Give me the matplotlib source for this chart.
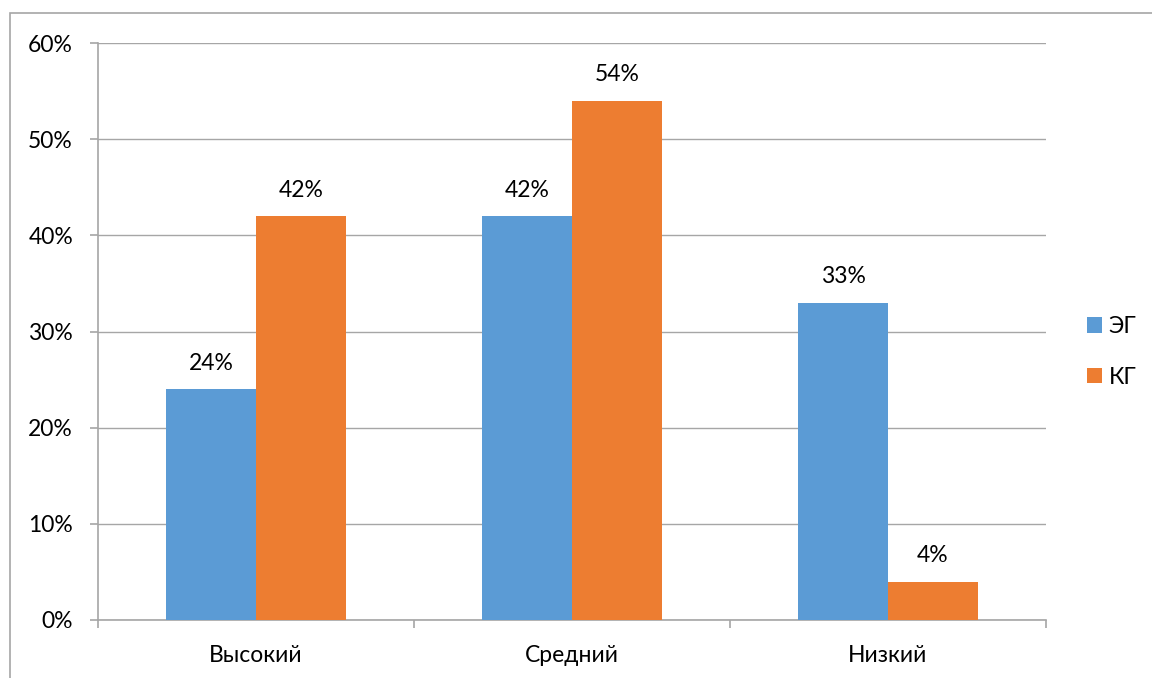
import matplotlib.pyplot as plt
import numpy as np
from matplotlib.patches import Rectangle

plt.rcParams['font.family'] = ['Lato', 'DejaVu Sans']

# Уровни и доли по группам
categories = ['Высокий', 'Средний', 'Низкий']
eg_values = [24, 42, 33]
kg_values = [42, 54, 4]
series_names = ['ЭГ', 'КГ']
colors = ['#5B9BD5', '#ED7D31']

W, H = 1152, 678
fs = 16.5
fig = plt.figure(figsize=(W / 100, H / 100), dpi=100)
ax = fig.add_axes([98 / W, 1 - 620 / H, (1046 - 98) / W, (620 - 43) / H])

# outer chart frame (cropped on the right and bottom)
fig.patches.append(Rectangle((10 / W, -0.1), 1.2, 1 - 13 / H + 0.1,
                             transform=fig.transFigure, fill=False,
                             edgecolor='#A6A6A6', linewidth=1.2))

x = np.arange(len(categories))
bw = 90 / 316
bars1 = ax.bar(x - bw / 2, eg_values, bw, color=colors[0], label=series_names[0], zorder=3)
bars2 = ax.bar(x + bw / 2, kg_values, bw, color=colors[1], label=series_names[1], zorder=3)

for bars, vals in [(bars1, eg_values), (bars2, kg_values)]:
    for b, v in zip(bars, vals):
        ax.text(b.get_x() + b.get_width() / 2, v + 2.0, f'{v}%',
                ha='center', va='baseline', fontsize=fs, color='#000000')

ax.set_xlim(-0.5, 2.5)
ax.set_ylim(0, 60)
ax.set_yticks(range(0, 61, 10))
ax.set_yticklabels([f'{t}%' for t in range(0, 61, 10)], fontsize=fs)
ax.yaxis.grid(True, color='#A6A6A6', linewidth=1.0, zorder=0)

ax.set_xticks(x)
ax.set_xticklabels(categories, fontsize=fs)
ax.tick_params(axis='x', length=0, pad=18)
ax.set_xticks([-0.5, 0.5, 1.5, 2.5], minor=True)
ax.tick_params(axis='x', which='minor', length=6, color='#A6A6A6', width=1.2)
ax.tick_params(axis='y', length=6, color='#A6A6A6', width=1.2, pad=12)

for s in ['top', 'right']:
    ax.spines[s].set_visible(False)
for s in ['left', 'bottom']:
    ax.spines[s].set_color('#A6A6A6')
    ax.spines[s].set_linewidth(1.2)

ax.legend(loc='center left', bbox_to_anchor=(1087 / W, 1 - 352 / H),
          bbox_transform=fig.transFigure, frameon=False, fontsize=fs,
          borderpad=0, borderaxespad=0,
          handlelength=0.65, handleheight=0.65, handletextpad=0.3,
          labelspacing=1.3)

fig.savefig('out.png', dpi=100)
